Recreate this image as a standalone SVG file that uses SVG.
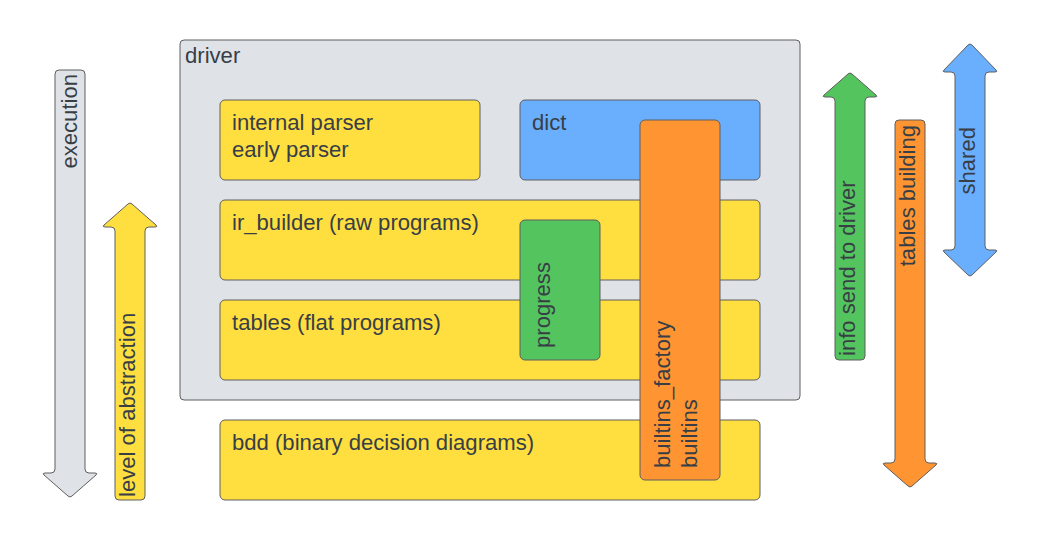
<svg xmlns="http://www.w3.org/2000/svg" width="1040" height="540" viewBox="0 0 1040 540">
<style>
.bx{stroke:#5e5e5e;stroke-width:1}
.ar{stroke:#5e5e5e;stroke-width:1;stroke-linejoin:round}
.gray{fill:#dfe3e8}
.yel{fill:#ffdf40}
.blue{fill:#6aaffe}
.org{fill:#fe9432}
.grn{fill:#54c45e}
text{font-family:"Liberation Sans",Arial,sans-serif;font-size:22.1px;fill:#383e46}
</style>
<rect width="1040" height="540" fill="#ffffff"/>
<g id="connectors">
<g id="arrow-execution">
<path class="ar gray" d="M59,70 H81 Q85,70 85,74 V469 Q85,473 89,473 H95 Q98,473 96,475 L72,496 Q70,498 68,496 L44,475 Q42,473 45,473 H51 Q55,473 55,469 V74 Q55,70 59,70 Z"/>
<text transform="translate(77,74) rotate(-90)" text-anchor="end">execution</text>
</g>
<g id="arrow-abstraction">
<path class="ar yel" d="M119,500 H141 Q145,500 145,496 V231 Q145,227 149,227 H155 Q158,227 156,225 L132,204 Q130,202 128,204 L104,225 Q102,227 105,227 H111 Q115,227 115,231 V496 Q115,500 119,500 Z"/>
<text transform="translate(135,497) rotate(-90)">level of abstraction</text>
</g>
<g id="arrow-info">
<path class="ar grn" d="M839,360 H861 Q865,360 865,356 V101 Q865,97 869,97 H875 Q878,97 876,95 L852,74 Q850,72 848,74 L824,95 Q822,97 825,97 H831 Q835,97 835,101 V356 Q835,360 839,360 Z"/>
<text transform="translate(855,356) rotate(-90)">info send to driver</text>
</g>
<g id="arrow-tables">
<path class="ar org" d="M899,120 H921 Q925,120 925,124 V459 Q925,463 929,463 H935 Q938,463 936,465 L912,486 Q910,488 908,486 L884,465 Q882,463 885,463 H891 Q895,463 895,459 V124 Q895,120 899,120 Z"/>
<text transform="translate(915,125) rotate(-90)" text-anchor="end">tables building</text>
</g>
<g id="arrow-shared">
<path class="ar blue" d="M955,76 Q955,72 951,72 H945 Q942,72 944,70 L968,45 Q970,43 972,45 L996,70 Q998,72 995,72 H989 Q985,72 985,76 V246 Q985,250 989,250 H995 Q998,250 996,252 L972,275 Q970,277 968,275 L944,252 Q942,250 945,250 H951 Q955,250 955,246 Z"/>
<text transform="translate(975,127) rotate(-90)" text-anchor="end">shared</text>
</g>
</g>
<g id="driver">
<rect class="bx gray" x="180" y="40" width="620" height="360" rx="4"/>
<text x="185" y="63">driver</text>
</g>
<g id="parser">
<rect class="bx yel" x="220" y="100" width="260" height="80" rx="5"/>
<text x="232" y="130">internal parser</text>
<text x="232" y="157">early parser</text>
</g>
<g id="dict">
<rect class="bx blue" x="520" y="100" width="240" height="80" rx="5"/>
<text x="532" y="130">dict</text>
</g>
<g id="ir_builder">
<rect class="bx yel" x="220" y="200" width="540" height="80" rx="5"/>
<text x="232" y="230">ir_builder (raw programs)</text>
</g>
<g id="tables">
<rect class="bx yel" x="220" y="300" width="540" height="80" rx="5"/>
<text x="232" y="330">tables (flat programs)</text>
</g>
<g id="bdd">
<rect class="bx yel" x="220" y="420" width="540" height="80" rx="5"/>
<text x="232" y="450">bdd (binary decision diagrams)</text>
</g>
<g id="progress">
<rect class="bx grn" x="520" y="220" width="80" height="140" rx="5"/>
<text transform="translate(550,348) rotate(-90)">progress</text>
</g>
<g id="builtins">
<rect class="bx org" x="640" y="120" width="80" height="360" rx="5"/>
<text transform="translate(670,468) rotate(-90)">builtins_factory</text>
<text transform="translate(697,468) rotate(-90)">builtins</text>
</g>
</svg>
